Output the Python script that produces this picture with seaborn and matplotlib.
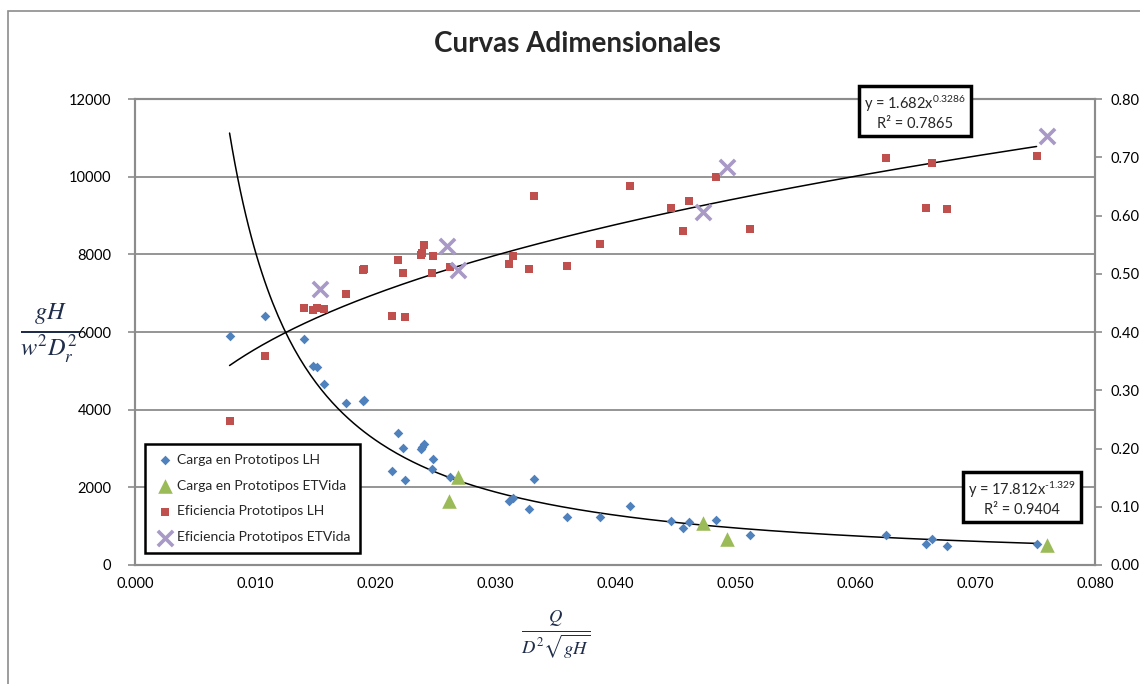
"""
Curvas Adimensionales - carga y eficiencia de prototipos
"""

import numpy as np
import pandas as pd
import matplotlib
matplotlib.use('Agg')
import matplotlib.pyplot as plt
from matplotlib.patches import Rectangle
import seaborn as sns

# Carga en Prototipos LH (eje izquierdo) y Eficiencia Prototipos LH (eje derecho)
x_lh = [0.00788, 0.01086, 0.01405, 0.01484, 0.01517, 0.01578, 0.01762, 0.01902,
        0.01907, 0.02140, 0.02194, 0.02232, 0.02249, 0.02380, 0.02388, 0.02407,
        0.02472, 0.02483, 0.02625, 0.03117, 0.03146, 0.03284, 0.03321, 0.03599,
        0.03877, 0.04128, 0.04468, 0.04568, 0.04615, 0.04843, 0.05125, 0.06257,
        0.06591, 0.06645, 0.06764, 0.07513]
carga_lh = [5897, 6420, 5820, 5133, 5107, 4654, 4172, 4216,
            4250, 2429, 3400, 3021, 2181, 2987, 3047, 3108,
            2465, 2730, 2274, 1656, 1718, 1450, 2207, 1236,
            1228, 1512, 1141, 961, 1115, 1151, 773, 773,
            533, 662, 497, 533]
efic_lh = [0.247, 0.358, 0.441, 0.438, 0.442, 0.439, 0.466, 0.506,
           0.509, 0.428, 0.523, 0.502, 0.426, 0.533, 0.535, 0.550,
           0.501, 0.530, 0.511, 0.516, 0.531, 0.508, 0.634, 0.513,
           0.551, 0.651, 0.613, 0.573, 0.625, 0.666, 0.576, 0.699,
           0.613, 0.690, 0.612, 0.702]

# Prototipos ETVida
x_et_carga = [0.02614, 0.02691, 0.04732, 0.04935, 0.07599]
carga_et = [1656, 2258, 1089, 670, 515]
x_et_efic = [0.01542, 0.02603, 0.02692, 0.04732, 0.04935, 0.07602]
efic_et = [0.473, 0.547, 0.506, 0.606, 0.684, 0.737]

# Lineas de tendencia (potencial) de Excel
carga_a, carga_b, carga_r2 = 17.812, -1.329, 0.9404
efic_a, efic_b, efic_r2 = 1.682, 0.3286, 0.7865

x_ticks = [0.0, 0.01, 0.02, 0.03, 0.04, 0.05, 0.06, 0.07, 0.08]
left_ticks = [0, 2000, 4000, 6000, 8000, 10000, 12000]
right_ticks = [0.0, 0.1, 0.2, 0.3, 0.4, 0.5, 0.6, 0.7, 0.8]

c_blue = '#4F81BD'
c_red = '#C0504D'
c_green = '#9BBB59'
c_purple = '#A899C6'
c_grid = '#8C8C8C'

sns.set_style('white')
plt.rcParams['font.family'] = ['Lato', 'DejaVu Sans']
plt.rcParams['mathtext.fontset'] = 'custom'
plt.rcParams['mathtext.rm'] = 'Lato'
plt.rcParams['mathtext.it'] = 'Lato:italic'

fig = plt.figure(figsize=(11.4, 6.84), dpi=100)
W, H = 1140, 684
ax = fig.add_axes([135 / W, 1 - 565 / H, 960 / W, 466 / H])
ax2 = ax.twinx()

# outer chart border
fig.patches.append(Rectangle((8 / W, -0.05), 1.2, 1 - 11 / H + 0.05,
                             transform=fig.transFigure, fill=False,
                             edgecolor='#8C8C8C', linewidth=1.2))

df_lh = pd.DataFrame({'x': x_lh, 'carga': carga_lh, 'efic': efic_lh})
df_et_c = pd.DataFrame({'x': x_et_carga, 'carga': carga_et})
df_et_e = pd.DataFrame({'x': x_et_efic, 'efic': efic_et})

# trendlines
xc = np.linspace(min(x_lh), max(x_lh), 300)
sns.lineplot(x=xc, y=carga_a * xc ** carga_b, ax=ax, color='black',
             linewidth=1.1, zorder=3)
sns.lineplot(x=xc, y=efic_a * xc ** efic_b, ax=ax2, color='black',
             linewidth=1.1, zorder=3)

sns.scatterplot(data=df_lh, x='x', y='carga', ax=ax, marker='D', s=24,
                color=c_blue, linewidth=0, zorder=4,
                label='Carga en Prototipos LH')
sns.scatterplot(data=df_et_c, x='x', y='carga', ax=ax, marker='^', s=110,
                color=c_green, linewidth=0, zorder=4,
                label='Carga en Prototipos ETVida')
sns.scatterplot(data=df_lh, x='x', y='efic', ax=ax2, marker='s', s=36,
                color=c_red, linewidth=0, zorder=4,
                label='Eficiencia Prototipos LH')
sns.scatterplot(data=df_et_e, x='x', y='efic', ax=ax2, marker='x', s=120,
                color=c_purple, linewidth=2.6, zorder=4,
                label='Eficiencia Prototipos ETVida')

ax.set_xlim(0, 0.08)
ax.set_ylim(0, 12000)
ax2.set_ylim(0, 0.8)
ax.set_xticks(x_ticks)
ax.set_xticklabels([f'{v:.3f}' for v in x_ticks])
ax.set_yticks(left_ticks)
ax.set_yticklabels([str(v) for v in left_ticks])
ax2.set_yticks(right_ticks)
ax2.set_yticklabels([f'{v:.2f}' for v in right_ticks])
ax.set_xlabel('')
ax.set_ylabel('')
ax2.set_ylabel('')

ax.grid(axis='y', color=c_grid, linewidth=1.3)
ax.set_axisbelow(True)
for a in (ax, ax2):
    for sp in a.spines.values():
        sp.set_color(c_grid)
        sp.set_linewidth(1.5)
    a.tick_params(axis='both', labelsize=10.5, colors='black', length=5,
                  width=1.2, color=c_grid, direction='out')
ax.tick_params(axis='x', length=0, pad=9)
ax.tick_params(axis='y', pad=12)
ax2.tick_params(axis='y', pad=6)

# legend (combined)
h1, l1 = ax.get_legend_handles_labels()
h2, l2 = ax2.get_legend_handles_labels()
ax.get_legend().remove()
ax2.get_legend().remove()
leg = ax2.legend(h1 + h2, l1 + l2, loc='lower left',
                 bbox_to_anchor=(10 / 960, 12 / 466), borderaxespad=0,
                 fontsize=10, frameon=True, fancybox=False, framealpha=1,
                 edgecolor='black', handletextpad=0.1, borderpad=0.7,
                 labelspacing=1.0, handlelength=1.5)
leg.get_frame().set_linewidth(1.8)
leg.set_zorder(10)

# trendline equations
box = dict(boxstyle='square,pad=0.35', facecolor='white', edgecolor='black',
           linewidth=2.5)
fig.text(915 / W, 1 - 112 / H,
         f'y = {efic_a}x$^{{{efic_b}}}$\nR² = {efic_r2}',
         ha='center', va='center', fontsize=10.5, linespacing=1.3,
         bbox=box, zorder=20)
fig.text(1022 / W, 1 - 498 / H,
         'y = ' + str(carga_a) + 'x$^{\\text{' + str(carga_b) + '}}$'
         + '\nR² = ' + str(carga_r2),
         ha='center', va='center', fontsize=10.5, linespacing=1.3,
         bbox=box, zorder=20)

fig.text(577 / W, 1 - 44 / H, 'Curvas Adimensionales', ha='center',
         va='center', fontsize=20, fontweight='bold')

# axis labels as fractions
fig.text(50 / W, 1 - 333 / H, r'$\frac{gH}{w^2 D_r^2}$', ha='center',
         va='center', fontsize=25, color='#1F2D4A', math_fontfamily='stix')
fig.text(556 / W, 1 - 635 / H, r'$\frac{Q}{D^2\sqrt{gH}}$', ha='center',
         va='center', fontsize=19, color='#1F2D4A', math_fontfamily='stix')

fig.savefig('out.png', dpi=100)
